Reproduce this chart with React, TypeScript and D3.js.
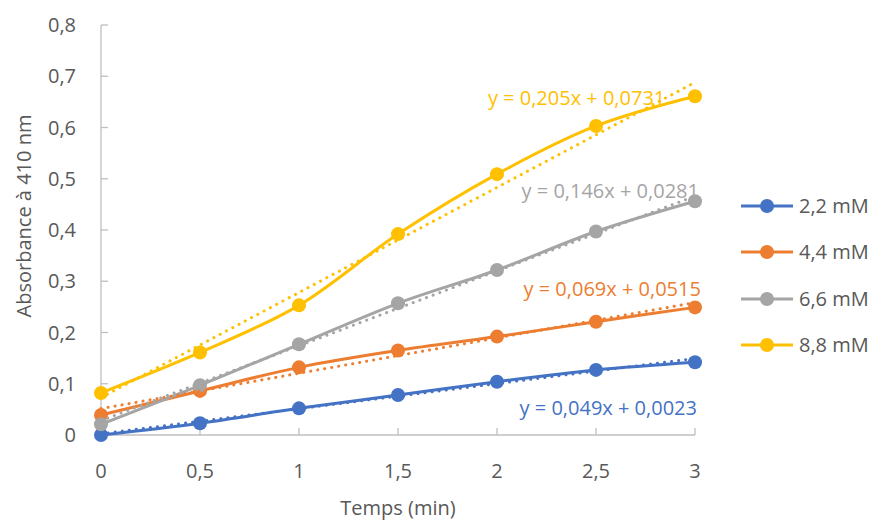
import React from "react";
import * as d3 from "d3";

const times = [0, 0.5, 1, 1.5, 2, 2.5, 3];
const seriesNames = ["2,2 mM", "4,4 mM", "6,6 mM", "8,8 mM"];
const s22 = [0, 0.023, 0.052, 0.078, 0.104, 0.127, 0.142];
const s44 = [0.039, 0.086, 0.132, 0.165, 0.192, 0.221, 0.249];
const s66 = [0.021, 0.097, 0.177, 0.257, 0.322, 0.397, 0.456];
const s88 = [0.082, 0.161, 0.253, 0.392, 0.509, 0.603, 0.661];
const slopes = [0.049, 0.069, 0.146, 0.205];
const intercepts = [0.0023, 0.0515, 0.0281, 0.0731];
const equations = [
  "y = 0,049x + 0,0023",
  "y = 0,069x + 0,0515",
  "y = 0,146x + 0,0281",
  "y = 0,205x + 0,0731",
];
const xTicks = [0, 0.5, 1, 1.5, 2, 2.5, 3];
const yTicks = [0, 0.1, 0.2, 0.3, 0.4, 0.5, 0.6, 0.7, 0.8];

const colors = ["#4472C4", "#ED7D31", "#A5A5A5", "#FFC000"];
const allSeries = [s22, s44, s66, s88];
// label anchor positions (end x, center y) in data coordinates
const labelPos = [
  { x: 3.01, y: 0.053 },
  { x: 3.03, y: 0.285 },
  { x: 3.02, y: 0.476 },
  { x: 2.85, y: 0.658 },
];

const fmt = (v: number) => (v === 0 ? "0" : String(v).replace(".", ","));

export default function App() {
  const W = 880, H = 522;
  const x = d3.scaleLinear().domain([0, 3]).range([101, 695]);
  const y = d3.scaleLinear().domain([0, 0.8]).range([435, 25]);
  const line = d3
    .line<number>()
    .x((_, i) => x(times[i]))
    .y((d) => y(d))
    .curve(d3.curveCatmullRom.alpha(0.5));
  const font = "'Open Sans', sans-serif";
  const txt = "#595959";
  const axisCol = "#BFBFBF";
  const legendY = [206, 252, 299, 345];

  return (
    <svg width={W} height={H} style={{ position: "absolute", left: 0, top: 0, fontFamily: font }}>
      <rect width={W} height={H} fill="#fff" />
      {/* axes */}
      <line x1={x(0)} x2={x(0)} y1={y(0.8)} y2={y(0)} stroke={axisCol} strokeWidth={1.3} />
      <line x1={x(0)} x2={x(3)} y1={y(0)} y2={y(0)} stroke={axisCol} strokeWidth={1.3} />
      {yTicks.map((t) => (
        <g key={"y" + t}>
          <line x1={x(0)} x2={x(0) + 7} y1={y(t)} y2={y(t)} stroke={axisCol} strokeWidth={1.3} />
          <text x={76} y={y(t)} dy="0.35em" textAnchor="end" fontSize={20} fill={txt}>
            {fmt(t)}
          </text>
        </g>
      ))}
      {xTicks.map((t) => (
        <g key={"x" + t}>
          <line x1={x(t)} x2={x(t)} y1={y(0)} y2={y(0) - 7} stroke={axisCol} strokeWidth={1.3} />
          <text x={x(t)} y={471} dy="0.35em" textAnchor="middle" fontSize={20} fill={txt}>
            {fmt(t)}
          </text>
        </g>
      ))}
      <text x={398} y={515} textAnchor="middle" fontSize={20} fill={txt}>
        Temps (min)
      </text>
      <text
        transform={`translate(24,216) rotate(-90)`}
        dy="0.35em"
        textAnchor="middle"
        fontSize={20}
        fill={txt}
      >
        Absorbance à 410 nm
      </text>
      {/* series */}
      {allSeries.map((s, k) => (
        <g key={"s" + k}>
          <path d={line(s) || ""} fill="none" stroke={colors[k]} strokeWidth={3} />
          {s.map((v, i) => (
            <circle key={i} cx={x(times[i])} cy={y(v)} r={7} fill={colors[k]} />
          ))}
        </g>
      ))}
      {/* trendlines */}
      {slopes.map((m, k) => (
        <line
          key={"t" + k}
          x1={x(0)}
          y1={y(intercepts[k])}
          x2={x(3)}
          y2={y(m * 3 + intercepts[k])}
          stroke={colors[k]}
          strokeWidth={3}
          strokeLinecap="round"
          strokeDasharray="0.1 7"
        />
      ))}
      {equations.map((e, k) => (
        <text
          key={"e" + k}
          x={x(labelPos[k].x)}
          y={y(labelPos[k].y)}
          dy="0.35em"
          textAnchor="end"
          fontSize={20}
          fill={colors[k]}
        >
          {e}
        </text>
      ))}
      {/* legend */}
      {seriesNames.map((n, k) => (
        <g key={"l" + k}>
          <line x1={741} x2={793} y1={legendY[k]} y2={legendY[k]} stroke={colors[k]} strokeWidth={3} />
          <circle cx={767} cy={legendY[k]} r={7} fill={colors[k]} />
          <text x={799} y={legendY[k]} dy="0.35em" fontSize={20} fill={txt}>
            {n}
          </text>
        </g>
      ))}
    </svg>
  );
}
